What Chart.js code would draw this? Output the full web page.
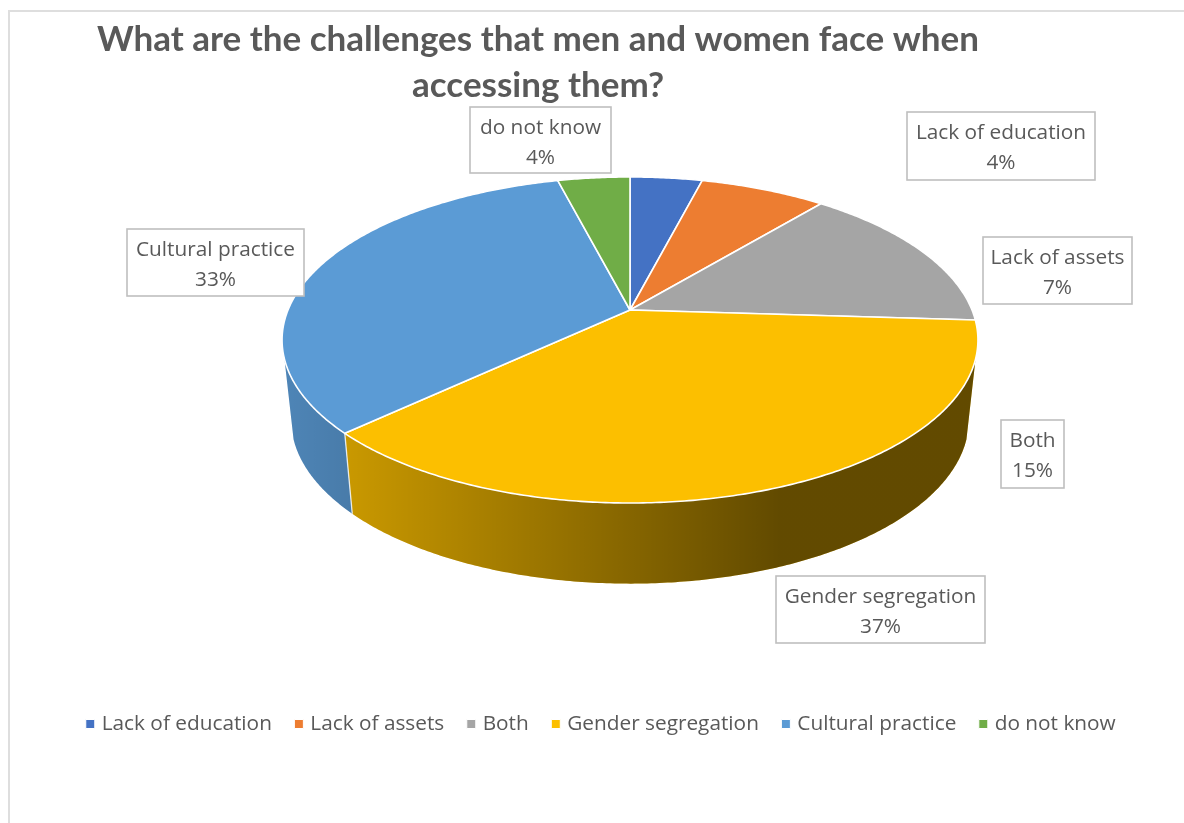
<!DOCTYPE html>
<html>
<head>
  <meta charset="utf-8"/>
  <title>Challenges accessing them</title>
  <script src="https://cdn.jsdelivr.net/npm/chart.js@4"></script>
  <style>
    html, body { margin: 0; background: #fff; }
    #wrap { width: 1184px; height: 823px; }
  </style>
</head>
<body>
  <div id="wrap"><canvas id="pie" width="1184" height="823"></canvas></div>
  <script>
    const titleLines = ['What are the challenges that men and women face when', 'accessing them?'];
    const categories = ['Lack of education', 'Lack of assets', 'Both', 'Gender segregation', 'Cultural practice', 'do not know'];
    const shares = [4, 7, 15, 37, 33, 4];
    const colours = ['#4472C4', '#ED7D31', '#A5A5A5', '#FCBF00', '#5B9BD5', '#70AD47'];

    const textGrey = '#595959';
    const labelFont = '20.8px "Open Sans"';

    // perspective disc: top face and bottom rim, x = cx + b*u/(1+k*v), y = apex + a*v/(1+k*v)
    const tilt = -0.184;
    const topFace = { cx: 630, apex: 310, a: 157.5, b: 342 };
    const bottomRim = { cx: 630, apex: 390, a: 158, b: 333 };

    // callout boxes, in the order of the categories
    const boxes = [
      { left: 907, top: 112, right: 1095, bottom: 180 },
      { left: 983, top: 237, right: 1132, bottom: 304 },
      { left: 1001, top: 420, right: 1064, bottom: 488 },
      { left: 776, top: 576, right: 985, bottom: 643 },
      { left: 127, top: 229, right: 304, bottom: 296 },
      { left: 470, top: 107, right: 611, bottom: 173 }
    ];

    function project(disc, angle) {
      // chart angles run clockwise from 3 o'clock
      const u = Math.cos(angle), v = Math.sin(angle);
      const w = 1 + tilt * v;
      return { x: disc.cx + disc.b * u / w, y: disc.apex + disc.a * v / w };
    }

    function traceRim(ctx, disc, from, to, first) {
      const steps = Math.max(2, Math.ceil(Math.abs(to - from) / 0.01));
      for (let i = 0; i <= steps; i++) {
        const p = project(disc, from + (to - from) * i / steps);
        if (i === 0 && first) ctx.moveTo(p.x, p.y);
        else ctx.lineTo(p.x, p.y);
      }
    }

    const tiltedPie = {
      id: 'tiltedPie',
      beforeDatasetDraw(chart, args) {
        const ctx = chart.ctx;
        const arcs = args.meta.data;
        const frontFrom = 0.3, frontTo = Math.PI - 0.3;

        // side wall of the front slices, darkened from left to right
        ctx.save();
        arcs.forEach((arc, i) => {
          const from = Math.max(arc.startAngle, frontFrom);
          const to = Math.min(arc.endAngle, frontTo);
          if (to <= from) return;
          ctx.beginPath();
          traceRim(ctx, topFace, from, to, true);
          traceRim(ctx, bottomRim, to, from, false);
          ctx.closePath();
          ctx.fillStyle = colours[i];
          ctx.fill();
          const shade = ctx.createLinearGradient(282, 0, 780, 0);
          shade.addColorStop(0, 'rgba(0,0,0,0.14)');
          shade.addColorStop(1, 'rgba(0,0,0,0.61)');
          ctx.fillStyle = shade;
          ctx.fill();
        });

        // seam where two walls meet
        arcs.forEach(arc => {
          const a = arc.endAngle;
          if (a <= frontFrom || a >= frontTo) return;
          const p = project(topFace, a), q = project(bottomRim, a);
          ctx.beginPath();
          ctx.moveTo(p.x, p.y);
          ctx.lineTo(q.x, q.y);
          ctx.strokeStyle = 'rgba(255,255,255,0.8)';
          ctx.lineWidth = 1.3;
          ctx.stroke();
        });

        // top face
        arcs.forEach((arc, i) => {
          ctx.beginPath();
          ctx.moveTo(topFace.cx, topFace.apex);
          traceRim(ctx, topFace, arc.startAngle, arc.endAngle, false);
          ctx.closePath();
          ctx.fillStyle = colours[i];
          ctx.fill();
          ctx.strokeStyle = '#fff';
          ctx.lineWidth = 1.6;
          ctx.lineJoin = 'round';
          ctx.stroke();
        });
        ctx.restore();
        return false;
      },
      afterDatasetsDraw(chart) {
        const ctx = chart.ctx;
        ctx.save();
        ctx.font = labelFont;
        ctx.textAlign = 'center';
        ctx.textBaseline = 'middle';
        boxes.forEach((b, i) => {
          ctx.fillStyle = '#fff';
          ctx.fillRect(b.left, b.top, b.right - b.left, b.bottom - b.top);
          ctx.strokeStyle = '#BFBFBF';
          ctx.lineWidth = 1.6;
          ctx.strokeRect(b.left, b.top, b.right - b.left, b.bottom - b.top);
          const mid = (b.left + b.right) / 2;
          ctx.fillStyle = textGrey;
          ctx.fillText(categories[i], mid, b.top + 21);
          ctx.fillText(shares[i] + '%', mid, b.top + 51);
        });
        ctx.restore();
      },
      beforeDraw(chart) {
        const ctx = chart.ctx;
        // chart frame, open towards the right and the bottom of the page
        ctx.save();
        ctx.strokeStyle = '#DEDEDE';
        ctx.lineWidth = 2;
        ctx.beginPath();
        ctx.moveTo(9, 823);
        ctx.lineTo(9, 11);
        ctx.lineTo(1184, 11);
        ctx.stroke();
        ctx.restore();

        // title and legend sit off the canvas centre
        const title = chart.titleBlock;
        title.left = 0; title.right = 1076; title.top = 17;
        const legend = chart.legend;
        const h = legend.bottom - legend.top;
        legend.left = 0; legend.right = 1205; legend.top = 716 - h / 2; legend.bottom = legend.top + h;
      }
    };

    new Chart(document.getElementById('pie'), {
      type: 'pie',
      data: {
        labels: categories,
        datasets: [{ data: shares, backgroundColor: colours, borderColor: '#fff', borderWidth: 1 }]
      },
      options: {
        responsive: false,
        animation: false,
        plugins: {
          title: {
            display: true,
            text: titleLines,
            color: textGrey,
            font: { family: 'Lato', size: 35, weight: 'bold', lineHeight: 1.31 },
            padding: 0
          },
          legend: {
            position: 'bottom',
            labels: {
              color: textGrey,
              font: { family: '"Open Sans"', size: 20.8 },
              usePointStyle: true,
              pointStyle: 'rect',
              boxWidth: 2,
              boxHeight: 9,
              padding: 26
            }
          },
          tooltip: { enabled: false }
        }
      },
      plugins: [tiltedPie]
    });
  </script>
</body>
</html>
